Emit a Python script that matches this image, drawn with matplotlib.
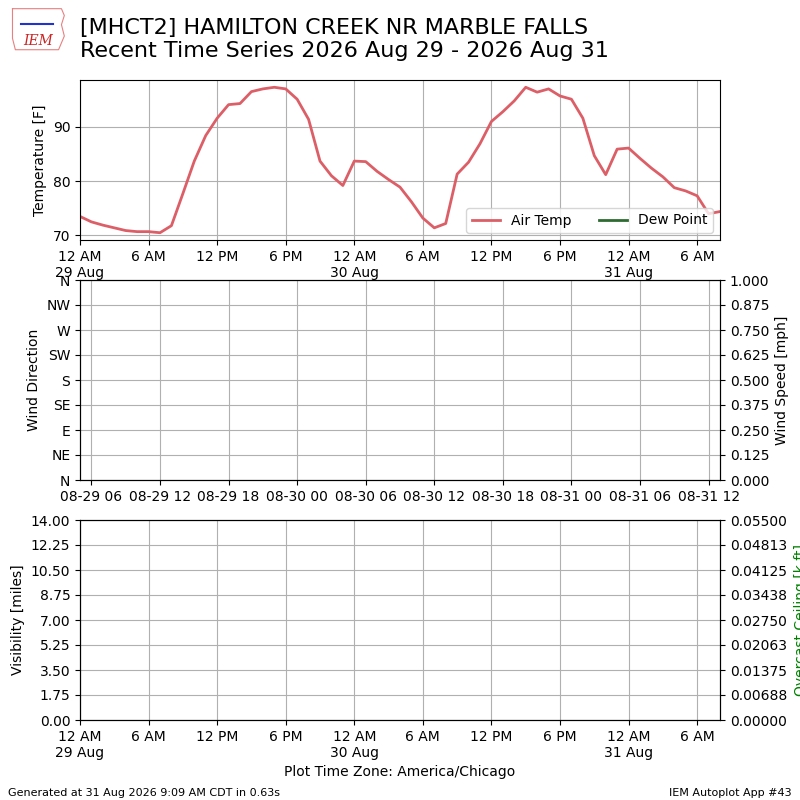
import matplotlib
matplotlib.use("Agg")
import matplotlib.pyplot as plt
import matplotlib.dates as mdates
from matplotlib.ticker import FuncFormatter, FormatStrFormatter
import numpy as np
import pandas as pd

# hourly observations, local time
start_time = "2026-08-29 00:00"
tzname = "America/Chicago"
air_temp = [73.5, 72.5, 71.9, 71.4, 70.9, 70.7, 70.7, 70.5, 71.8, 77.7,
            83.7, 88.4, 91.6, 94.1, 94.3, 96.5, 97.0, 97.3, 97.0, 95.1,
            91.4, 83.7, 81.0, 79.2, 83.7, 83.6, 81.8, 80.3, 78.9, 76.2,
            73.2, 71.4, 72.2, 81.3, 83.5, 86.9, 91.0, 92.8, 94.8, 97.3,
            96.4, 97.0, 95.7, 95.1, 91.6, 84.7, 81.2, 85.9, 86.1, 84.2,
            82.4, 80.8, 78.8, 78.2, 77.3, 74.0, 74.4]
dew_point = []
wind_dir_labels = ["N", "NE", "E", "SE", "S", "SW", "W", "NW", "N"]
wind_speed_max = 1.0
vis_max = 14.0
ceiling_max = 0.055

title = ("[MHCT2] HAMILTON CREEK NR MARBLE FALLS\n"
         "Recent Time Series 2026 Aug 29 - 2026 Aug 31")

valid = pd.date_range(start_time, periods=len(air_temp), freq="h", tz=tzname)
valid = [v.to_pydatetime() for v in valid]


def local_fmt(x, pos=None):
    dt = mdates.num2date(x, tz=tzname)
    lbl = dt.strftime("%I %p").lstrip("0")
    if dt.hour == 0:
        lbl += "\n" + dt.strftime("%d %b")
    return lbl


def set_local_xaxis(ax):
    ax.xaxis.set_major_locator(mdates.HourLocator(byhour=[0, 6, 12, 18], tz=tzname))
    ax.xaxis.set_major_formatter(FuncFormatter(local_fmt))
    ax.set_xlim(valid[0], valid[-1])


fig = plt.figure(figsize=(8, 8), dpi=100)

# ---- temperature
ax1 = fig.add_axes([0.1, 0.7, 0.8, 0.2])
ax1.plot(valid, air_temp, color="#dc5f67", lw=2, label="Air Temp")
ax1.plot(valid[:len(dew_point)], dew_point, color="#2e6b30", lw=2, label="Dew Point")
set_local_xaxis(ax1)
ax1.set_ylabel("Temperature [F]")
ax1.grid(True)
ax1.legend(loc="lower right", ncol=2)

# ---- wind (no data, axis left on default UTC dates)
ax2 = fig.add_axes([0.1, 0.4, 0.8, 0.25])
ax2.set_xlim(valid[0], valid[-1])
utc_loc = mdates.AutoDateLocator(tz="UTC")
ax2.xaxis.set_major_locator(utc_loc)
ax2.xaxis.set_major_formatter(mdates.AutoDateFormatter(utc_loc, tz="UTC"))
ax2.set_ylim(0, 360)
ax2.set_yticks(np.arange(0, 361, 45))
ax2.set_yticklabels(wind_dir_labels)
ax2.set_ylabel("Wind Direction")
ax2.grid(True)
ax2b = ax2.twinx()
ax2b.set_ylim(0, wind_speed_max)
ax2b.set_yticks(np.linspace(0, wind_speed_max, 9))
ax2b.yaxis.set_major_formatter(FormatStrFormatter("%.3f"))
ax2b.set_ylabel("Wind Speed [mph]")

# ---- visibility / ceiling
ax3 = fig.add_axes([0.1, 0.1, 0.8, 0.25])
set_local_xaxis(ax3)
ax3.set_ylim(0, vis_max)
ax3.set_yticks(np.linspace(0, vis_max, 9))
ax3.yaxis.set_major_formatter(FormatStrFormatter("%.2f"))
ax3.set_ylabel("Visibility [miles]")
ax3.set_xlabel("Plot Time Zone: America/Chicago")
ax3.grid(True)
ax3b = ax3.twinx()
ax3b.set_ylim(0, ceiling_max)
ax3b.set_yticks(np.linspace(0, ceiling_max, 9))
ax3b.yaxis.set_major_formatter(FormatStrFormatter("%.5f"))
ax3b.set_ylabel("Overcast Ceiling [k ft]", color="green")
ax3b.yaxis.set_label_coords(1.115, 0.5)

# ---- header / footer
fig.text(0.1, 0.978, title, va="top", ha="left", fontsize=16)
fig.text(0.01, 0.005, "Generated at 31 Aug 2026 9:09 AM CDT in 0.63s", fontsize=8)
fig.text(0.99, 0.005, "IEM Autoplot App #43", fontsize=8, ha="right")

# logo stand-in
logo = fig.add_axes([0.012, 0.935, 0.072, 0.057])
logo.axis("off")
logo.set_xlim(0, 1)
logo.set_ylim(0, 1)
logo.plot([0.05, 0.9, 0.95, 0.9, 0.95, 0.85, 0.1, 0.05, 0.05],
          [0.95, 0.95, 0.8, 0.6, 0.35, 0.05, 0.05, 0.3, 0.95],
          color="#e88080", lw=0.8)
logo.plot([0.2, 0.75], [0.62, 0.62], color="#2233cc", lw=1.5)
logo.text(0.5, 0.25, "IEM", color="#cc2222", fontsize=10, ha="center",
          va="center", family="serif", style="italic")

fig.savefig("out.png", dpi=100)
